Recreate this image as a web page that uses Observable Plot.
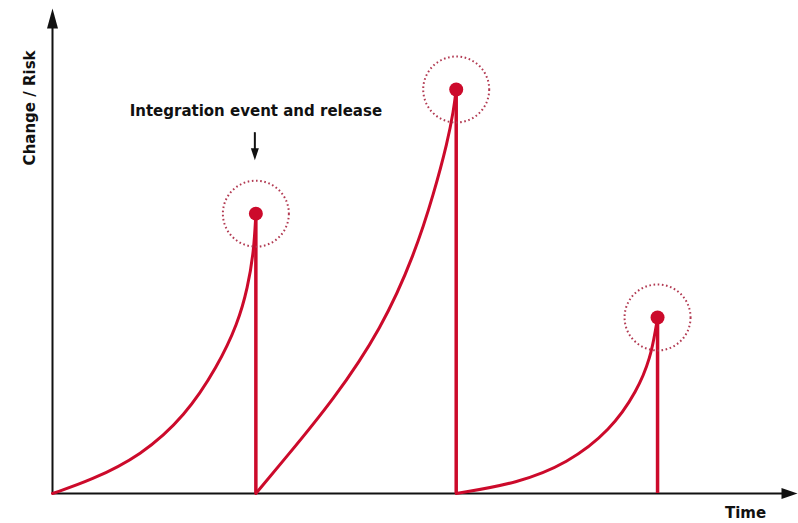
<!DOCTYPE html>
<html><head><meta charset="utf-8">
<script src="https://cdn.jsdelivr.net/npm/d3@7"></script>
<script src="https://cdn.jsdelivr.net/npm/@observablehq/plot@0.6"></script>
<style>body{margin:0;background:#fff;font-family:"DejaVu Sans",sans-serif}</style>
</head><body><div id="chart"></div>
<script>
// Release times (time units) and risk accumulated before each release
const releases = ["Release 1", "Release 2", "Release 3"];
const releaseTime = [10.1, 20.05, 30.05];
const peakRisk = [5.77, 8.33, 3.63];

// Risk build-up curves: [time, risk]
const curve1 = [[0,0],[1.9,0.27],[4.4,0.78],[6.6,1.6],[8.2,2.62],[9.2,3.5],[9.7,4.25],[10.0,5.0],[10.1,5.77]];
const curve2 = [[10.1,0],[11.47,0.68],[13.96,1.93],[16.35,3.4],[18.0,4.95],[18.95,6.2],[19.62,7.25],[19.92,7.9],[20.05,8.33]];
const curve3 = [[20.05,0],[23.09,0.21],[25.58,0.62],[27.71,1.3],[29.05,2.12],[29.7,2.8],[29.97,3.42],[30.05,3.63]];

const axisEnd = {x: 37, y: 10};
const annotation = "Integration event and release";
const yLabel = "Change / Risk";
const xLabel = "Time";

const red = "#cc0a2b";
const curves = [curve1, curve2, curve3].flatMap((c, i) => c.map(([t, r]) => ({t, r, s: releases[i]})));
const peaks = releases.map((s, i) => ({s, t: releaseTime[i], r: peakRisk[i]}));

// Elongated filled arrowhead symbol, tip at origin pointing up
const head = (w, l) => ({draw(ctx) { ctx.moveTo(0, 0); ctx.lineTo(w / 2, l); ctx.lineTo(-w / 2, l); ctx.closePath(); }});
const font = "'DejaVu Sans', sans-serif";

const chart = Plot.plot({
  width: 798, height: 523,
  margin: 0,
  x: {domain: [0, axisEnd.x], range: [52, 797], axis: null},
  y: {domain: [0, axisEnd.y], range: [493, 8], axis: null},
  style: {fontFamily: font, background: "#fff"},
  marks: [
    // axes
    Plot.ruleX([0], {y1: 0, y2: axisEnd.y - 0.3, stroke: "#111", strokeWidth: 2}),
    Plot.ruleY([0], {x1: 0, x2: axisEnd.x - 0.5, stroke: "#111", strokeWidth: 2}),
    Plot.dot([{x: 0, y: axisEnd.y}], {x: "x", y: "y", symbol: head(11, 20), r: 10, fill: "#111", stroke: null}),
    Plot.dot([{x: axisEnd.x, y: 0}], {x: "x", y: "y", symbol: head(11, 16), r: 10, fill: "#111", stroke: null, rotate: 90}),
    // release drops
    Plot.ruleX(peaks, {x: "t", y1: 0, y2: "r", stroke: red, strokeWidth: 3.5}),
    // build-up curves
    Plot.line(curves, {x: "t", y: "r", z: "s", stroke: red, strokeWidth: 3, curve: "basis"}),
    // dotted halos
    Plot.dot(peaks, {x: "t", y: "r", r: 33, stroke: "#b23a52", strokeWidth: 2, strokeDasharray: "1.6 2.6", fill: "none"}),
    Plot.dot(peaks, {x: "t", y: "r", r: 7, fill: red, stroke: null}),
    // annotation
    Plot.text([annotation], {x: releaseTime[0], y: 7.88, text: d => d, fontSize: 15, fontWeight: 700, fill: "#111", textAnchor: "middle"}),
    Plot.ruleX([releaseTime[0] - 0.05], {y1: 7.44, y2: 7.05, stroke: "#111", strokeWidth: 2}),
    Plot.dot([{x: releaseTime[0] - 0.05, y: 6.87}], {x: "x", y: "y", symbol: head(8, 12), r: 10, fill: "#111", stroke: null, rotate: 180}),
    // axis labels
    Plot.text([yLabel], {x: -1.1, y: 7.95, text: d => d, rotate: -90, fontSize: 15, fontWeight: 700, fill: "#111", textAnchor: "middle"}),
    Plot.text([xLabel], {x: 34.42, y: -0.41, text: d => d, fontSize: 15, fontWeight: 700, fill: "#111", textAnchor: "middle"})
  ]
});
document.getElementById("chart").appendChild(chart);
</script></body></html>
